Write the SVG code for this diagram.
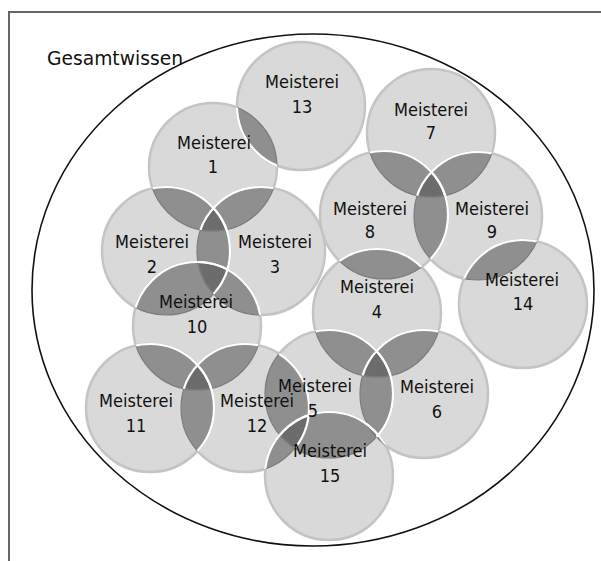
<svg xmlns="http://www.w3.org/2000/svg" xmlns:xlink="http://www.w3.org/1999/xlink" width="601" height="561" viewBox="0 0 601 561">
<style>
.base{fill:#d9d9d9;stroke:#c4c4c4;stroke-width:2.5}
.lens{fill:#8f8f8f;stroke:none}
.tri{fill:#6c6c6c;stroke:none}
.darc{fill:none;stroke:#7c7c7c;stroke-width:1.2}
.warc{fill:none;stroke:#ffffff;stroke-width:2.2}
.lbl{font-family:"DejaVu Sans Condensed","DejaVu Sans",sans-serif;font-size:18px;fill:#111;text-anchor:middle}
.title{font-family:"DejaVu Sans",sans-serif;font-size:18.7px;fill:#111}
</style>
<defs>
<circle id="C1" cx="213" cy="167" r="64"/>
<circle id="C2" cx="166" cy="251" r="64"/>
<circle id="C3" cx="261" cy="251" r="64"/>
<circle id="C4" cx="377" cy="313" r="64"/>
<circle id="C5" cx="329" cy="394" r="64"/>
<circle id="C6" cx="424" cy="394" r="64"/>
<circle id="C7" cx="431" cy="133" r="64"/>
<circle id="C8" cx="384" cy="215" r="64"/>
<circle id="C9" cx="478" cy="216" r="64"/>
<circle id="C10" cx="197" cy="326" r="64"/>
<circle id="C11" cx="150" cy="408" r="64"/>
<circle id="C12" cx="245" cy="408" r="64"/>
<circle id="C13" cx="301" cy="106" r="64"/>
<circle id="C14" cx="523" cy="304" r="64"/>
<circle id="C15" cx="329" cy="476" r="64"/>
<clipPath id="k1"><circle cx="213" cy="167" r="64"/></clipPath>
<clipPath id="k2"><circle cx="166" cy="251" r="64"/></clipPath>
<clipPath id="k3"><circle cx="261" cy="251" r="64"/></clipPath>
<clipPath id="k4"><circle cx="377" cy="313" r="64"/></clipPath>
<clipPath id="k5"><circle cx="329" cy="394" r="64"/></clipPath>
<clipPath id="k6"><circle cx="424" cy="394" r="64"/></clipPath>
<clipPath id="k7"><circle cx="431" cy="133" r="64"/></clipPath>
<clipPath id="k8"><circle cx="384" cy="215" r="64"/></clipPath>
<clipPath id="k9"><circle cx="478" cy="216" r="64"/></clipPath>
<clipPath id="k10"><circle cx="197" cy="326" r="64"/></clipPath>
<clipPath id="k11"><circle cx="150" cy="408" r="64"/></clipPath>
<clipPath id="k12"><circle cx="245" cy="408" r="64"/></clipPath>
<clipPath id="k13"><circle cx="301" cy="106" r="64"/></clipPath>
<clipPath id="k14"><circle cx="523" cy="304" r="64"/></clipPath>
<clipPath id="k15"><circle cx="329" cy="476" r="64"/></clipPath>
</defs>

<g id="frame">
<path d="M9,561 V12 H601" fill="none" stroke="#666" stroke-width="2"/>
</g>

<g id="gesamtwissen">
<ellipse cx="313" cy="290" rx="281" ry="256" fill="none" stroke="#111" stroke-width="1.6"/>
<text class="title" x="47" y="65">Gesamtwissen</text>
</g>

<g id="circles">
<g id="node-7"><use xlink:href="#C7" class="base"/></g>
<g id="node-9"><use xlink:href="#C9" class="base"/></g>
<g id="node-8"><use xlink:href="#C8" class="base"/></g>
<g id="node-14"><use xlink:href="#C14" class="base"/></g>
<g id="node-1"><use xlink:href="#C1" class="base"/></g>
<g id="node-13"><use xlink:href="#C13" class="base"/></g>
<g id="node-3"><use xlink:href="#C3" class="base"/></g>
<g id="node-2"><use xlink:href="#C2" class="base"/></g>
<g id="node-10"><use xlink:href="#C10" class="base"/></g>
<g id="node-4"><use xlink:href="#C4" class="base"/></g>
<g id="node-6"><use xlink:href="#C6" class="base"/></g>
<g id="node-5"><use xlink:href="#C5" class="base"/></g>
<g id="node-12"><use xlink:href="#C12" class="base"/></g>
<g id="node-11"><use xlink:href="#C11" class="base"/></g>
<g id="node-15"><use xlink:href="#C15" class="base"/></g>
</g>

<g id="overlaps">
<use xlink:href="#C9" clip-path="url(#k7)" class="lens"/>
<use xlink:href="#C8" clip-path="url(#k7)" class="lens"/>
<use xlink:href="#C8" clip-path="url(#k9)" class="lens"/>
<use xlink:href="#C14" clip-path="url(#k9)" class="lens"/>
<use xlink:href="#C13" clip-path="url(#k1)" class="lens"/>
<use xlink:href="#C3" clip-path="url(#k1)" class="lens"/>
<use xlink:href="#C2" clip-path="url(#k1)" class="lens"/>
<use xlink:href="#C2" clip-path="url(#k3)" class="lens"/>
<use xlink:href="#C10" clip-path="url(#k3)" class="lens"/>
<use xlink:href="#C10" clip-path="url(#k2)" class="lens"/>
<use xlink:href="#C4" clip-path="url(#k8)" class="lens"/>
<use xlink:href="#C6" clip-path="url(#k4)" class="lens"/>
<use xlink:href="#C5" clip-path="url(#k4)" class="lens"/>
<use xlink:href="#C5" clip-path="url(#k6)" class="lens"/>
<use xlink:href="#C12" clip-path="url(#k5)" class="lens"/>
<use xlink:href="#C12" clip-path="url(#k10)" class="lens"/>
<use xlink:href="#C11" clip-path="url(#k10)" class="lens"/>
<use xlink:href="#C11" clip-path="url(#k12)" class="lens"/>
<use xlink:href="#C15" clip-path="url(#k5)" class="lens"/>
<use xlink:href="#C15" clip-path="url(#k12)" class="lens"/>
<use xlink:href="#C15" clip-path="url(#k6)" class="lens"/>

<g clip-path="url(#k1)"><use xlink:href="#C3" clip-path="url(#k2)" class="tri"/></g>
<g clip-path="url(#k7)"><use xlink:href="#C9" clip-path="url(#k8)" class="tri"/></g>
<g clip-path="url(#k10)"><use xlink:href="#C2" clip-path="url(#k3)" class="tri"/></g>
<g clip-path="url(#k10)"><use xlink:href="#C11" clip-path="url(#k12)" class="tri"/></g>
<g clip-path="url(#k4)"><use xlink:href="#C5" clip-path="url(#k6)" class="tri"/></g>
<g clip-path="url(#k5)"><use xlink:href="#C12" clip-path="url(#k15)" class="tri"/></g>
<g clip-path="url(#k5)"><use xlink:href="#C6" clip-path="url(#k15)" class="tri"/></g>

<use xlink:href="#C7" clip-path="url(#k9)" class="darc"/>
<use xlink:href="#C7" clip-path="url(#k8)" class="darc"/>
<use xlink:href="#C9" clip-path="url(#k8)" class="darc"/>
<use xlink:href="#C9" clip-path="url(#k14)" class="darc"/>
<use xlink:href="#C1" clip-path="url(#k13)" class="darc"/>
<use xlink:href="#C1" clip-path="url(#k3)" class="darc"/>
<use xlink:href="#C1" clip-path="url(#k2)" class="darc"/>
<use xlink:href="#C3" clip-path="url(#k2)" class="darc"/>
<use xlink:href="#C3" clip-path="url(#k10)" class="darc"/>
<use xlink:href="#C2" clip-path="url(#k10)" class="darc"/>
<use xlink:href="#C8" clip-path="url(#k4)" class="darc"/>
<use xlink:href="#C4" clip-path="url(#k6)" class="darc"/>
<use xlink:href="#C4" clip-path="url(#k5)" class="darc"/>
<use xlink:href="#C6" clip-path="url(#k5)" class="darc"/>
<use xlink:href="#C5" clip-path="url(#k12)" class="darc"/>
<use xlink:href="#C10" clip-path="url(#k12)" class="darc"/>
<use xlink:href="#C10" clip-path="url(#k11)" class="darc"/>
<use xlink:href="#C12" clip-path="url(#k11)" class="darc"/>
<use xlink:href="#C5" clip-path="url(#k15)" class="darc"/>
<use xlink:href="#C12" clip-path="url(#k15)" class="darc"/>
<use xlink:href="#C6" clip-path="url(#k15)" class="darc"/>

<use xlink:href="#C9" clip-path="url(#k7)" class="warc"/>
<use xlink:href="#C8" clip-path="url(#k7)" class="warc"/>
<use xlink:href="#C8" clip-path="url(#k9)" class="warc"/>
<use xlink:href="#C14" clip-path="url(#k9)" class="warc"/>
<use xlink:href="#C13" clip-path="url(#k1)" class="warc"/>
<use xlink:href="#C3" clip-path="url(#k1)" class="warc"/>
<use xlink:href="#C2" clip-path="url(#k1)" class="warc"/>
<use xlink:href="#C2" clip-path="url(#k3)" class="warc"/>
<use xlink:href="#C10" clip-path="url(#k3)" class="warc"/>
<use xlink:href="#C10" clip-path="url(#k2)" class="warc"/>
<use xlink:href="#C4" clip-path="url(#k8)" class="warc"/>
<use xlink:href="#C6" clip-path="url(#k4)" class="warc"/>
<use xlink:href="#C5" clip-path="url(#k4)" class="warc"/>
<use xlink:href="#C5" clip-path="url(#k6)" class="warc"/>
<use xlink:href="#C12" clip-path="url(#k5)" class="warc"/>
<use xlink:href="#C12" clip-path="url(#k10)" class="warc"/>
<use xlink:href="#C11" clip-path="url(#k10)" class="warc"/>
<use xlink:href="#C11" clip-path="url(#k12)" class="warc"/>
<use xlink:href="#C15" clip-path="url(#k5)" class="warc"/>
<use xlink:href="#C15" clip-path="url(#k12)" class="warc"/>
<use xlink:href="#C15" clip-path="url(#k6)" class="warc"/>
</g>

<g id="labels">
<g id="label-1"><text class="lbl" x="214" y="149">Meisterei</text><text class="lbl" x="213" y="173">1</text></g>
<g id="label-2"><text class="lbl" x="152" y="248">Meisterei</text><text class="lbl" x="152" y="273">2</text></g>
<g id="label-3"><text class="lbl" x="275" y="248">Meisterei</text><text class="lbl" x="275" y="273">3</text></g>
<g id="label-4"><text class="lbl" x="377" y="293">Meisterei</text><text class="lbl" x="377" y="318">4</text></g>
<g id="label-5"><text class="lbl" x="315" y="392">Meisterei</text><text class="lbl" x="313" y="417">5</text></g>
<g id="label-6"><text class="lbl" x="437" y="393">Meisterei</text><text class="lbl" x="437" y="418">6</text></g>
<g id="label-7"><text class="lbl" x="431" y="116">Meisterei</text><text class="lbl" x="431" y="139">7</text></g>
<g id="label-8"><text class="lbl" x="370" y="215">Meisterei</text><text class="lbl" x="370" y="238">8</text></g>
<g id="label-9"><text class="lbl" x="492" y="215">Meisterei</text><text class="lbl" x="492" y="238">9</text></g>
<g id="label-10"><text class="lbl" x="196" y="308">Meisterei</text><text class="lbl" x="197" y="333">10</text></g>
<g id="label-11"><text class="lbl" x="136" y="407">Meisterei</text><text class="lbl" x="136" y="432">11</text></g>
<g id="label-12"><text class="lbl" x="257" y="407">Meisterei</text><text class="lbl" x="257" y="432">12</text></g>
<g id="label-13"><text class="lbl" x="302" y="88">Meisterei</text><text class="lbl" x="302" y="113">13</text></g>
<g id="label-14"><text class="lbl" x="522" y="286">Meisterei</text><text class="lbl" x="523" y="310">14</text></g>
<g id="label-15"><text class="lbl" x="330" y="457">Meisterei</text><text class="lbl" x="330" y="482">15</text></g>
</g>
</svg>
